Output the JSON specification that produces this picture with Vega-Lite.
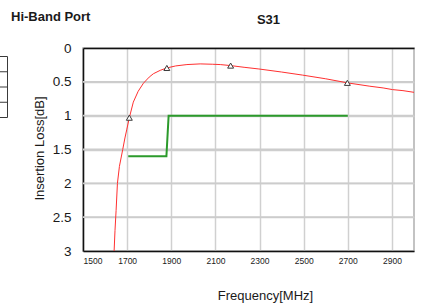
{
  "$schema": "https://vega.github.io/schema/vega-lite/v6.json",
  "width": 331,
  "height": 203,
  "autosize": {"type": "none"},
  "padding": {"left": 83, "top": 48, "right": 10, "bottom": 55},
  "background": "white",
  "title": {"text": "Hi-Band Port", "anchor": "start", "frame": "group", "dx": -72, "dy": 25, "fontSize": 13, "fontWeight": "bold", "font": "Liberation Sans", "color": "#1a1a1a", "baseline": "alphabetic", "offset": 4},
  "config": {
    "view": {"stroke": "#b0b0b0", "strokeWidth": 1.5},
    "axis": {"labelFont": "Liberation Sans", "titleFont": "Liberation Sans", "labelColor": "#1a1a1a", "titleColor": "#1a1a1a", "domainColor": "#111111", "domainWidth": 1.5, "gridColor": "#d0d0d0", "gridWidth": 1.5, "gridOpacity": 1, "ticks": false}
  },
  "datasets": {
    "ygrid": [
      {"g": 0.5, "a": 1500, "b": 3000}, {"g": 1, "a": 1500, "b": 3000}, {"g": 1.5, "a": 1500, "b": 3000},
      {"g": 2, "a": 1500, "b": 3000}, {"g": 2.5, "a": 1500, "b": 3000}
    ],
    "curve": [
      {"f": 1641, "il": 3.0}, {"f": 1645, "il": 2.7}, {"f": 1650, "il": 2.4}, {"f": 1656, "il": 2.0},
      {"f": 1665, "il": 1.75}, {"f": 1680, "il": 1.5}, {"f": 1690, "il": 1.33}, {"f": 1698, "il": 1.21},
      {"f": 1710, "il": 1.03}, {"f": 1728, "il": 0.8}, {"f": 1750, "il": 0.64}, {"f": 1774, "il": 0.52},
      {"f": 1800, "il": 0.43}, {"f": 1819, "il": 0.38}, {"f": 1850, "il": 0.33}, {"f": 1880, "il": 0.295},
      {"f": 1920, "il": 0.265}, {"f": 1971, "il": 0.245}, {"f": 2031, "il": 0.235}, {"f": 2086, "il": 0.24},
      {"f": 2122, "il": 0.245}, {"f": 2169, "il": 0.26}, {"f": 2230, "il": 0.285}, {"f": 2297, "il": 0.31},
      {"f": 2400, "il": 0.355}, {"f": 2494, "il": 0.4}, {"f": 2600, "il": 0.455}, {"f": 2698, "il": 0.515},
      {"f": 2800, "il": 0.565}, {"f": 2860, "il": 0.59}, {"f": 2903, "il": 0.615}, {"f": 2950, "il": 0.63},
      {"f": 3000, "il": 0.655}
    ],
    "spec": [
      {"f": 1705, "il": 1.6}, {"f": 1878, "il": 1.6}, {"f": 1888, "il": 1.0}, {"f": 2700, "il": 1.0}
    ],
    "markers": [
      {"marker": "M1", "f": 1710, "il": 1.03}, {"marker": "M2", "f": 1880, "il": 0.295},
      {"marker": "M3", "f": 2169, "il": 0.26}, {"marker": "M4", "f": 2698, "il": 0.515}
    ]
  },
  "resolve": {"axis": {"x": "independent", "y": "independent"}},
  "layer": [
    {
      "data": {"name": "ygrid"},
      "mark": {"type": "rule", "color": "#cccccc", "strokeWidth": 1.8, "opacity": 1},
      "encoding": {
        "x": {"field": "a", "type": "quantitative", "axis": null},
        "x2": {"field": "b"},
        "y": {"field": "g", "type": "quantitative", "axis": null}
      }
    },
    {
      "data": {"name": "curve"},
      "mark": {"type": "line", "color": "#ff3030", "strokeWidth": 1, "clip": true},
      "encoding": {
        "x": {"field": "f", "type": "quantitative", "scale": {"domain": [1500, 3000], "nice": false, "zero": false},
              "axis": {"orient": "bottom", "values": [1500, 1700, 1900, 2100, 2300, 2500, 2700, 2900], "format": "d", "labelFontSize": 8.5, "labelPadding": 5, "labelOverlap": false, "title": "Frequency[MHz]", "titleFontSize": 13, "titleFontWeight": "normal", "titleAnchor": null, "titleX": 182, "titleY": 44, "titleBaseline": "middle", "grid": true}},
        "y": {"field": "il", "type": "quantitative", "scale": {"domain": [0, 3], "reverse": true, "nice": false},
              "axis": {"orient": "left", "values": [0, 0.5, 1, 1.5, 2, 2.5, 3], "format": "~g", "labelFontSize": 13.5, "labelPadding": 12, "labelOverlap": false, "title": "Insertion Loss[dB]", "titleFontSize": 13, "titleFontWeight": "normal", "titleAnchor": null, "titleAngle": -90, "titleX": -44, "titleY": 100, "titleBaseline": "middle", "grid": true}}
      }
    },
    {
      "data": {"name": "spec"},
      "mark": {"type": "line", "color": "#2b9a2b", "strokeWidth": 2},
      "encoding": {
        "x": {"field": "f", "type": "quantitative",
              "axis": {"orient": "top", "labels": false, "grid": false, "title": "S31", "titleFontSize": 13, "titleFontWeight": "bold", "titleAnchor": null, "titleX": 185, "titleY": -25, "titleBaseline": "alphabetic"}},
        "y": {"field": "il", "type": "quantitative", "axis": null}
      }
    },
    {
      "data": {"name": "markers"},
      "mark": {"type": "point", "shape": "triangle-up", "filled": true, "fill": "white", "strokeWidth": 1, "size": 35, "opacity": 1},
      "encoding": {
        "x": {"field": "f", "type": "quantitative", "axis": null},
        "y": {"field": "il", "type": "quantitative", "axis": null},
        "stroke": {"datum": "Markers", "type": "nominal", "scale": {"range": ["#3a3a3a"]},
                   "legend": {"orient": "none", "legendX": -121.5, "legendY": 8, "title": null, "symbolType": "M-0.492,-1H0.492V1H-0.492Z M-0.492,-0.5H0.492 M-0.492,0H0.492 M-0.492,0.5H0.492", "symbolSize": 3721, "symbolFillColor": "white", "symbolStrokeWidth": 1, "symbolOpacity": 1, "labelExpr": "''", "labelFontSize": 5, "labelOffset": 0, "rowPadding": 0, "padding": 0}}
      }
    }
  ]
}
